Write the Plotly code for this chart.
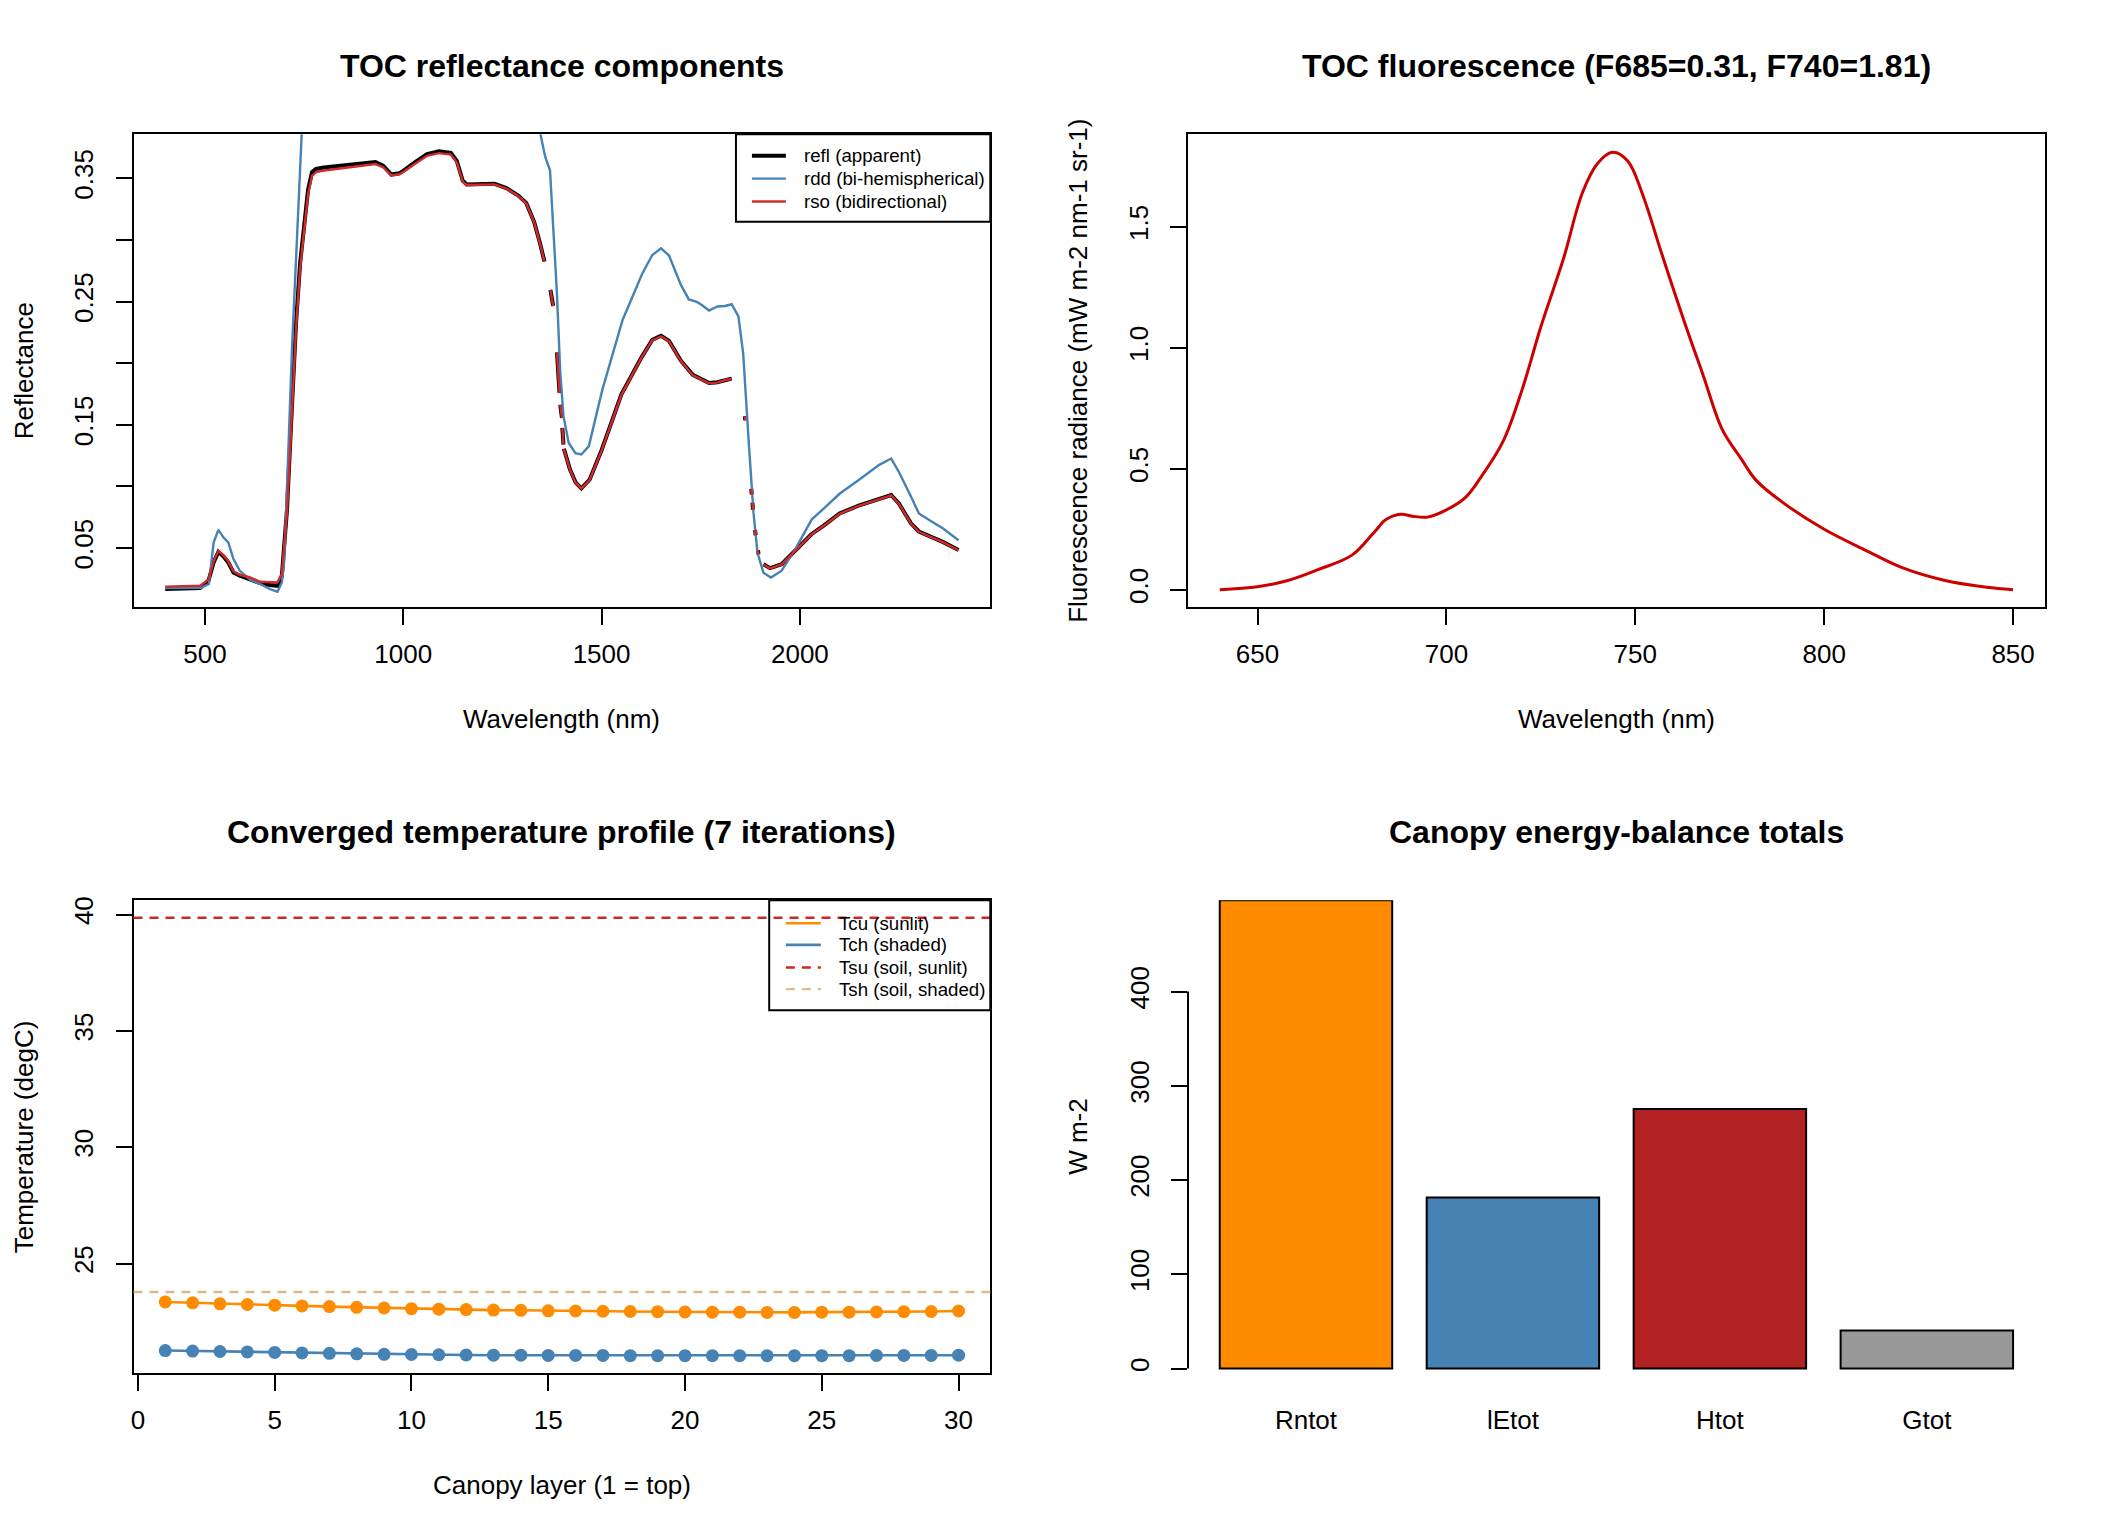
import plotly.graph_objects as go

# ---- panel 1: TOC reflectance components ----
wl_refl = [400, 488, 509, 522, 534, 547, 559, 572, 588, 614, 639, 664, 683, 694, 707, 715, 722,
           730, 740, 750, 760, 770, 780, 800, 850, 900, 930, 950, 970, 990, 1000, 1030, 1060,
           1090, 1120, 1135, 1150, 1160, 1200, 1230, 1260, 1290, 1310, 1330, 1345, 1356,
           1363, 1371, 1378, 1383, 1387.5, 1394, 1394.8, 1396, 1400, 1400.5, 1401, 1404, 1404.5,
           1405, 1420, 1435, 1449, 1470, 1500, 1550, 1600, 1628, 1650, 1670, 1700, 1730, 1752,
           1771, 1792, 1813, 1828, 1845, 1861, 1862.5, 1870, 1877.5, 1878.5, 1879.5, 1880.5,
           1881.5, 1884, 1887, 1888.5, 1892, 1894.5, 1895.5, 1901, 1908, 1925, 1954, 1988, 2029,
           2060, 2100, 2150, 2200, 2230, 2250, 2280, 2300, 2330, 2360, 2400]
refl = [0.0168, 0.0175, 0.0235, 0.0383, 0.0469, 0.0431, 0.0383, 0.0302, 0.0275, 0.0248, 0.0216,
        0.0200, 0.0194, 0.0275, 0.0814, 0.1354, 0.180, 0.234, 0.281, 0.313, 0.3405, 0.355,
        0.3575, 0.3587, 0.3605, 0.3622, 0.3632, 0.3600, 0.3530, 0.3540, 0.3560, 0.3630, 0.3695,
        0.3718, 0.3705, 0.3640, 0.3480, 0.3450, 0.3452, 0.3455, 0.3420, 0.3360, 0.3300, 0.3145,
        0.2970, 0.2824, None, 0.2594, 0.2464, None, 0.2087, 0.1758, None, 0.1663, 0.1556, None,
        0.1475, 0.1340, None, 0.1305, 0.1140, 0.1030, 0.0984, 0.1056, 0.1293, 0.1747, 0.2043,
        0.2190, 0.2222, 0.2180, 0.2020, 0.1905, 0.1866, 0.1839, 0.1845, 0.1866, 0.1874, None,
        0.1570, 0.1537, None, 0.0981, 0.0935, None, 0.0868, 0.0812, None, 0.0647, 0.0604, None,
        0.0482, 0.0450, None, 0.0369, 0.0337, 0.0369, 0.0477, 0.0612, 0.0682, 0.0780, 0.0847,
        0.0899, 0.0930, 0.0859, 0.0700, 0.0634, 0.0594, 0.0550, 0.0484]
rso = [0.0187, 0.0194, 0.0245, 0.0390, 0.0477, 0.0440, 0.0390, 0.0310, 0.0283, 0.0261, 0.0226,
       0.0221, 0.0221, 0.0290, 0.0790, 0.1310, 0.175, 0.229, 0.277, 0.310, 0.3370, 0.352,
       0.3550, 0.3563, 0.3582, 0.3605, 0.3615, 0.3588, 0.3522, 0.3532, 0.3550, 0.3618, 0.3682,
       0.3704, 0.3692, 0.3630, 0.3472, 0.3445, 0.3447, 0.3450, 0.3417, 0.3357, 0.3297, 0.3143,
       0.2968, 0.2822, None, 0.2592, 0.2462, None, 0.2085, 0.1756, None, 0.1661, 0.1554, None,
       0.1473, 0.1338, None, 0.1303, 0.1138, 0.1028, 0.0982, 0.1054, 0.1290, 0.1743, 0.2040,
       0.2187, 0.2218, 0.2177, 0.2017, 0.1902, 0.1863, 0.1836, 0.1842, 0.1863, 0.1871, None,
       0.1568, 0.1535, None, 0.0979, 0.0933, None, 0.0866, 0.0810, None, 0.0645, 0.0602, None,
       0.0480, 0.0448, None, 0.0367, 0.0335, 0.0367, 0.0475, 0.0610, 0.0680, 0.0778, 0.0845,
       0.0897, 0.0928, 0.0857, 0.0698, 0.0632, 0.0592, 0.0548, 0.0482]

wl_rdd = [400, 490, 510, 522, 534, 547, 559, 572, 588, 614, 639, 664, 683, 694, 700, 707, 711,
          720, 730, 738, 744, 760, 800, 900, 1000, 1100, 1200, 1300, 1340, 1347, 1358, 1370,
          1377, 1387, 1396, 1404, 1417, 1434, 1449, 1468, 1502, 1553, 1603, 1628, 1650, 1670,
          1700, 1720, 1740, 1752, 1771, 1792, 1811, 1828, 1845, 1857, 1870, 1883, 1893, 1908,
          1927, 1954, 1988, 2030, 2060, 2100, 2150, 2200, 2230, 2250, 2280, 2300, 2330, 2360, 2400]
rdd = [0.0175, 0.0178, 0.0208, 0.0545, 0.0647, 0.0585, 0.0545, 0.0410, 0.0315, 0.0243, 0.0208,
       0.0167, 0.0146, 0.0221, 0.040, 0.095, 0.135, 0.215, 0.290, 0.350, 0.386, 0.43, 0.46,
       0.47, 0.47, 0.48, 0.47, 0.44, 0.40, 0.384, 0.3673, 0.3565, 0.3134, 0.2594, 0.192, 0.157,
       0.1354, 0.127, 0.1259, 0.1327, 0.1785, 0.235, 0.2729, 0.2877, 0.2932, 0.2873, 0.2635,
       0.2517, 0.2497, 0.2473, 0.2427, 0.246, 0.2464, 0.2478, 0.2379, 0.208, 0.1408, 0.0787,
       0.0464, 0.030, 0.0261, 0.0316, 0.049, 0.0733, 0.082, 0.094, 0.1056, 0.1175, 0.1226,
       0.1115, 0.0918, 0.078, 0.072, 0.066, 0.0563]
refl_yticks = [0.05, 0.10, 0.15, 0.20, 0.25, 0.30, 0.35]
refl_ylabels = ["0.05", "", "0.15", "", "0.25", "", "0.35"]

# ---- panel 2: TOC fluorescence ----
wl_fluo = [640, 650, 658, 666, 675, 681, 684, 688, 691, 695, 700, 705, 709, 715, 720, 725, 731,
           736, 740, 744, 748, 752, 757, 763, 768, 773, 778, 782, 789, 800, 811, 821, 832, 843, 850]
fluo = [0.0, 0.012, 0.038, 0.083, 0.143, 0.24, 0.29, 0.312, 0.304, 0.300, 0.33, 0.381, 0.462,
        0.613, 0.825, 1.087, 1.369, 1.641, 1.762, 1.808, 1.772, 1.631, 1.389, 1.107, 0.885,
        0.663, 0.542, 0.452, 0.361, 0.25, 0.163, 0.089, 0.038, 0.010, 0.0]

# ---- panel 3: temperature profile ----
layers = list(range(1, 31))
Tcu = [23.35, 23.31, 23.27, 23.24, 23.21, 23.18, 23.15, 23.12, 23.09, 23.06, 23.04, 23.02, 23.00,
       22.99, 22.97, 22.96, 22.95, 22.94, 22.93, 22.92, 22.91, 22.91, 22.90, 22.90, 22.91, 22.91,
       22.92, 22.93, 22.94, 22.96]
Tch = [21.26, 21.24, 21.22, 21.20, 21.18, 21.16, 21.14, 21.12, 21.10, 21.09, 21.08, 21.07, 21.06,
       21.06, 21.05, 21.05, 21.05, 21.04, 21.04, 21.04, 21.04, 21.04, 21.04, 21.04, 21.04, 21.04,
       21.05, 21.05, 21.05, 21.06]
Tsu = 39.86
Tsh = 23.78

# ---- panel 4: energy balance ----
eb_names = ["Rntot", "lEtot", "Htot", "Gtot"]
eb_values = [496.8, 181.6, 275.3, 40.4]
eb_colors = ["#FF8C00", "#4682B4", "#B22222", "#999999"]

FONT = "Liberation Sans, Arial, Helvetica, sans-serif"
W, H = 2112, 1536
# plot regions in pixels (left, right, top, bottom)
L1, R1, L2, R2 = 130.7, 988.7, 1186.7, 2044.7
T1, B1, T2, B2 = 130.7, 604.8, 898.7, 1372.8
dx1 = [L1 / W, R1 / W]
dx2 = [L2 / W, R2 / W]
dy1 = [1 - B1 / H, 1 - T1 / H]
dy2 = [1 - B2 / H, 1 - T2 / H]

C_RSO = "#D02A2A"
C_TSU = "#CD2626"
C_TSH = "#DEB887"
DASH = "9px,7px"

fig = go.Figure()

fig.add_trace(go.Scatter(x=wl_refl, y=refl, mode="lines", line=dict(color="black", width=4),
                         xaxis="x", yaxis="y"))
fig.add_trace(go.Scatter(x=wl_rdd, y=rdd, mode="lines", line=dict(color="#4682B4", width=2.4),
                         xaxis="x", yaxis="y"))
fig.add_trace(go.Scatter(x=wl_refl, y=rso, mode="lines", line=dict(color=C_RSO, width=2.4),
                         xaxis="x", yaxis="y"))

fig.add_trace(go.Scatter(x=wl_fluo, y=fluo, mode="lines", line_shape="spline",
                         line=dict(color="#CD0000", width=3), xaxis="x2", yaxis="y2"))

fig.add_trace(go.Scatter(x=layers, y=Tcu, mode="lines+markers",
                         line=dict(color="#FF8C00", width=2.6), marker=dict(color="#FF8C00", size=13),
                         xaxis="x3", yaxis="y3"))
fig.add_trace(go.Scatter(x=layers, y=Tch, mode="lines+markers",
                         line=dict(color="#4682B4", width=2.6), marker=dict(color="#4682B4", size=13),
                         xaxis="x3", yaxis="y3"))

fig.add_trace(go.Bar(x=eb_names, y=eb_values, marker=dict(color=eb_colors, line=dict(color="black", width=2)),
                     xaxis="x4", yaxis="y4"))

shapes = [
    dict(type="line", xref="x3 domain", x0=0, x1=1, yref="y3", y0=Tsu, y1=Tsu,
         line=dict(color=C_TSU, width=2.4, dash=DASH)),
    dict(type="line", xref="x3 domain", x0=0, x1=1, yref="y3", y0=Tsh, y1=Tsh,
         line=dict(color=C_TSH, width=2.4, dash=DASH)),
    dict(type="line", xref="x4 domain", x0=0, x1=0, yref="y4", y0=0, y1=400,
         line=dict(color="black", width=2)),
]
ann = []


# R-style legend boxes drawn by hand (pixel positions on the 2112x1536 page)
def add_legend(box, line_x, text_x, items):
    x0, x1, y0, y1 = box
    shapes.append(dict(type="rect", xref="paper", yref="paper", x0=x0 / W, x1=x1 / W,
                       y0=1 - y1 / H, y1=1 - y0 / H, line=dict(color="black", width=2)))
    for (label, col, width, dash), yc in items:
        shapes.append(dict(type="line", xref="paper", yref="paper", x0=line_x[0] / W, x1=line_x[1] / W,
                           y0=1 - yc / H, y1=1 - yc / H, line=dict(color=col, width=width, dash=dash)))
        ann.append(dict(text=label, xref="paper", yref="paper", x=text_x / W, y=1 - yc / H,
                        xanchor="left", yanchor="middle", showarrow=False,
                        font=dict(family=FONT, size=18.7, color="black")))


add_legend((734, 988.7, 130.7, 218.3), (750, 784), 800,
           [(("refl (apparent)", "black", 4, "solid"), 152.2),
            (("rdd (bi-hemispherical)", "#4682B4", 2.4, "solid"), 175.1),
            (("rso (bidirectional)", C_RSO, 2.4, "solid"), 198.0)])
add_legend((767.3, 988.7, 898.7, 1009), (784, 819), 835,
           [(("Tcu (sunlit)", "#FF8C00", 2.6, "solid"), 921.7),
            (("Tch (shaded)", "#4682B4", 2.6, "solid"), 943.3),
            (("Tsu (soil, sunlit)", C_TSU, 2.4, DASH), 966.0),
            (("Tsh (soil, shaded)", C_TSH, 2.4, DASH), 987.7)])

axis_style = dict(showline=True, linecolor="black", linewidth=2, mirror=True, ticks="outside",
                  ticklen=16, tickwidth=2, tickcolor="black", showgrid=False, zeroline=False,
                  tickfont=dict(family=FONT, size=26, color="black"))
xstyle = dict(axis_style, ticklabelstandoff=7)
ystyle = dict(axis_style, tickangle=-90, ticklabelstandoff=12)

fig.update_layout(
    width=W, height=H, autosize=False, showlegend=False,
    margin=dict(l=0, r=0, t=0, b=0),
    paper_bgcolor="white", plot_bgcolor="white",
    font=dict(family=FONT, color="black"),
    xaxis=dict(xstyle, domain=dx1, anchor="y", range=[320, 2480], tickvals=[500, 1000, 1500, 2000]),
    yaxis=dict(ystyle, domain=dy1, anchor="x", range=[0.00198, 0.3856],
               tickvals=refl_yticks, ticktext=refl_ylabels),
    xaxis2=dict(xstyle, domain=dx2, anchor="y2", range=[631.6, 858.4], tickvals=[650, 700, 750, 800, 850]),
    yaxis2=dict(ystyle, domain=dy1, anchor="x2", range=[-0.0724, 1.8824],
                tickvals=[0.0, 0.5, 1.0, 1.5], ticktext=["0.0", "0.5", "1.0", "1.5"]),
    xaxis3=dict(xstyle, domain=dx1, anchor="y3", range=[-0.16, 31.16], tickvals=[0, 5, 10, 15, 20, 25, 30]),
    yaxis3=dict(ystyle, domain=dy2, anchor="x3", range=[20.286, 40.61], tickvals=[25, 30, 35, 40]),
    xaxis4=dict(domain=dx2, anchor="y4", range=[-0.57, 3.57], showline=False, ticks="",
                showgrid=False, zeroline=False, ticklabelstandoff=29,
                tickfont=dict(family=FONT, size=26, color="black")),
    yaxis4=dict(domain=dy2, anchor="x4", range=[-4.97, 496.8], showline=False, ticks="outside",
                ticklen=16, tickwidth=2, tickcolor="black", showgrid=False, zeroline=False,
                tickvals=[0, 100, 200, 300, 400], tickangle=-90, ticklabelstandoff=12,
                tickfont=dict(family=FONT, size=26, color="black")),
    bargap=1 - 1 / 1.2,
)

# titles and axis labels as annotations (R-style placement)
titles = [("TOC reflectance components", dx1, dy1),
          ("TOC fluorescence (F685=0.31, F740=1.81)", dx2, dy1),
          ("Converged temperature profile (7 iterations)", dx1, dy2),
          ("Canopy energy-balance totals", dx2, dy2)]
xlabels = [("Wavelength (nm)", dx1, dy1), ("Wavelength (nm)", dx2, dy1),
           ("Canopy layer (1 = top)", dx1, dy2)]
ylabels = [("Reflectance", dx1, dy1), ("Fluorescence radiance (mW m-2 nm-1 sr-1)", dx2, dy1),
           ("Temperature (degC)", dx1, dy2), ("W m-2", dx2, dy2)]
for text, dx, dy in titles:
    ann.append(dict(text="<b>" + text + "</b>", xref="paper", yref="paper", x=sum(dx) / 2, y=dy[1],
                    xanchor="center", yanchor="middle", yshift=68, showarrow=False,
                    font=dict(family=FONT, size=32, color="black")))
for text, dx, dy in xlabels:
    ann.append(dict(text=text, xref="paper", yref="paper", x=sum(dx) / 2, y=dy[0],
                    xanchor="center", yanchor="middle", yshift=-112, showarrow=False,
                    font=dict(family=FONT, size=26, color="black")))
for text, dx, dy in ylabels:
    ann.append(dict(text=text, xref="paper", yref="paper", x=dx[0], y=sum(dy) / 2, textangle=-90,
                    xanchor="center", yanchor="middle", xshift=-110, showarrow=False,
                    font=dict(family=FONT, size=26, color="black")))
fig.update_layout(annotations=ann, shapes=shapes)

fig.write_html("out.html", config={"displayModeBar": False},
               post_script="document.body.style.margin='0px';")
